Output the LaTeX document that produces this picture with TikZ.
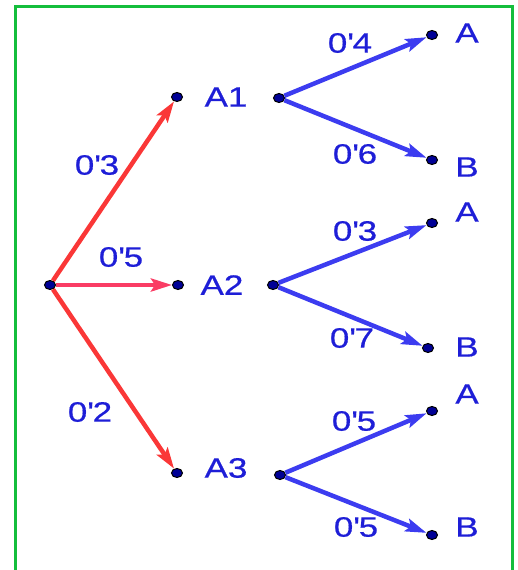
\documentclass[tikz,border=0pt]{standalone}
\usepackage{fontspec}
\setmainfont{Liberation Sans}
\newfontfamily\treefont[FakeStretch=1.25,FakeBold=0.6]{Liberation Sans}
\usetikzlibrary{arrows.meta}
\usetikzlibrary{shapes}
\definecolor{treered}{RGB}{250,55,55}
\definecolor{treepink}{RGB}{250,60,100}
\definecolor{treeblue}{RGB}{60,60,240}
\definecolor{textblue}{RGB}{30,30,215}
\definecolor{dotblue}{RGB}{0,0,150}
\definecolor{framegreen}{RGB}{20,190,60}
\begin{document}
\begin{tikzpicture}[x=1pt, y=-1pt,
        dot_style/.style={ellipse,draw=black,fill=dotblue,line width=1pt,minimum width=11pt,minimum height=9pt,inner sep=0pt},
        text_style/.style={text=textblue,font=\treefont\fontsize{28}{32}\selectfont,inner sep=0pt},
        red_edge_style/.style={draw=treered, line width=4.5pt,-{Stealth[length=21pt,width=13pt,inset=4pt]}},
        pink_edge_style/.style={draw=treepink, line width=4.5pt,-{Stealth[length=21pt,width=13pt,inset=4pt]}},
        blue_edge_style/.style={draw=treeblue, line width=4.5pt,-{Stealth[length=21pt,width=13pt,inset=4pt]}}]

        \useasboundingbox (0,0) rectangle (517,570);
        \draw [framegreen, line width=3pt] (15,575) -- (15,6) -- (512,6) -- (512,575);

        % first stage
        \node [dot_style](n0) at (50,285) {};
        \node [dot_style](n1) at (177,97) {};
        \node [dot_style](n2) at (178,285) {};
        \node [dot_style](n3) at (177,473) {};

        \node [text_style](t1) at (226,97) {A1};
        \node [text_style](t2) at (222,285) {A2};
        \node [text_style](t3) at (226,468) {A3};

        % second stage
        \node [dot_style](m1) at (279,98) {};
        \node [dot_style](m2) at (273,285) {};
        \node [dot_style](m3) at (280,475) {};

        \node [dot_style](a1) at (432,35) {};
        \node [dot_style](b1) at (432,160) {};
        \node [dot_style](a2) at (432,223) {};
        \node [dot_style](b2) at (428,348) {};
        \node [dot_style](a3) at (432,411) {};
        \node [dot_style](b3) at (432,535) {};

        \node [text_style](ta1) at (467,33) {A};
        \node [text_style](tb1) at (467,167) {B};
        \node [text_style](ta2) at (467,212) {A};
        \node [text_style](tb2) at (467,347) {B};
        \node [text_style](ta3) at (467,394) {A};
        \node [text_style](tb3) at (467,527) {B};

        % probabilities
        \node [text_style](p1) at (97,165) {0\textquotesingle3};
        \node [text_style](p2) at (121,257) {0\textquotesingle5};
        \node [text_style](p3) at (90,412) {0\textquotesingle2};
        \node [text_style](p4) at (350,43) {0\textquotesingle4};
        \node [text_style](p5) at (355,154) {0\textquotesingle6};
        \node [text_style](p6) at (355,231) {0\textquotesingle3};
        \node [text_style](p7) at (352,338) {0\textquotesingle7};
        \node [text_style](p8) at (354,421) {0\textquotesingle5};
        \node [text_style](p9) at (356,527) {0\textquotesingle5};

        \draw [red_edge_style] (n0) edge (n1);

        \draw [pink_edge_style] (n0) edge (n2);

        \draw [red_edge_style] (n0) edge (n3);

        \draw [blue_edge_style] (m1) edge (a1);

        \draw [blue_edge_style] (m1) edge (b1);

        \draw [blue_edge_style] (m2) edge (a2);

        \draw [blue_edge_style] (m2) edge (b2);

        \draw [blue_edge_style] (m3) edge (a3);

        \draw [blue_edge_style] (m3) edge (b3);

        \end{tikzpicture}
\end{document}
